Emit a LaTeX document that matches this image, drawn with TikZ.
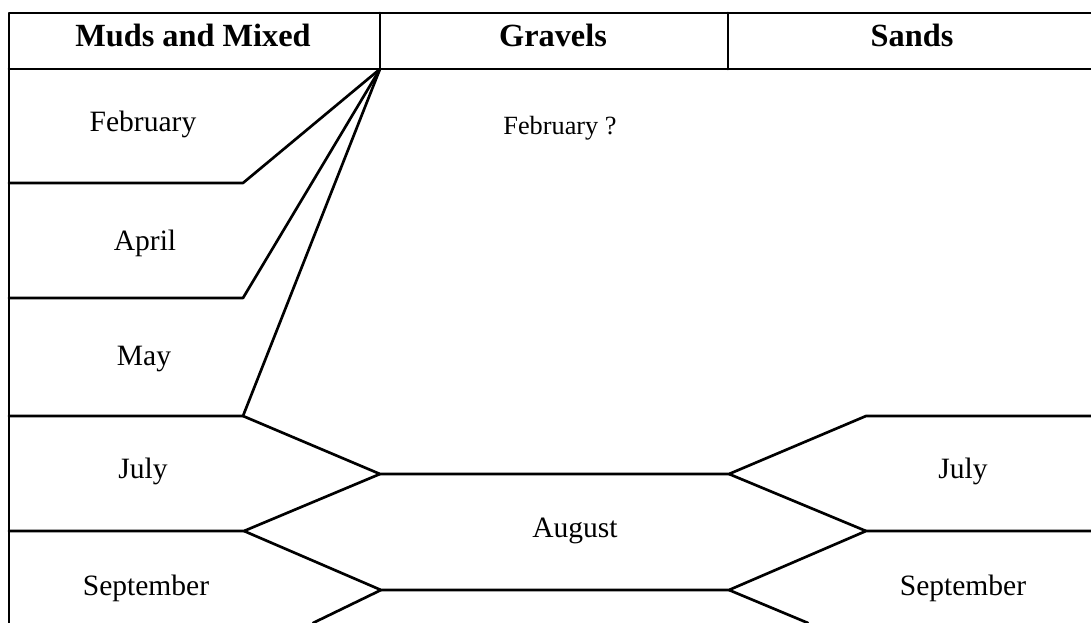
\documentclass[tikz,border=0pt]{standalone}
\usepackage{fontspec}
\setmainfont{Liberation Serif}

\begin{document}
\begin{tikzpicture}[
  x=0.025cm,
  y=-0.025cm,
  line cap=round,
  line join=round,
  rule/.style={line width=1.9pt},
  head/.style={anchor=base,font=\fontsize{23}{27}\selectfont\bfseries},
  month/.style={anchor=base,font=\fontsize{21}{25}\selectfont},
  query/.style={anchor=base,font=\fontsize{18.7}{22}\selectfont}
]
  \useasboundingbox (0,0) rectangle (1091,623);

  % Header row
  \coordinate (H0) at (9,13);
  \coordinate (H1) at (1091,13);
  \coordinate (G0) at (9,69);
  \coordinate (G1) at (1091,69);
  \coordinate (D1) at (380,13);
  \coordinate (D2) at (728,13);
  \coordinate (A)  at (380,69);
  \coordinate (D3) at (728,69);

  % Left column break points
  \coordinate (F)  at (243,183);
  \coordinate (Ap) at (243,298);
  \coordinate (M)  at (243,416);
  \coordinate (S)  at (244,531);

  % Middle and right break points
  \coordinate (J1) at (380,474);
  \coordinate (J2) at (729,474);
  \coordinate (B1) at (381,590);
  \coordinate (B2) at (729,590);
  \coordinate (R1) at (866,416);
  \coordinate (R2) at (866,531);

  % Frame and header lines
  \draw[rule] (9,623) -- (H0) -- (H1);
  \draw[rule] (G0) -- (G1);
  \draw[rule] (D1) -- (A);
  \draw[rule] (D2) -- (D3);

  % Muds and Mixed: February, April, May
  \draw[rule] (9,183) -- (F) -- (A);
  \draw[rule] (9,298) -- (Ap) -- (A);
  \draw[rule] (9,416) -- (M) -- (A);

  % July and August bands
  \draw[rule] (M) -- (J1) -- (J2) -- (R1) -- (1091,416);
  \draw[rule] (9,531) -- (S) -- (J1);
  \draw[rule] (S) -- (B1) -- (B2) -- (R2) -- (1091,531);
  \draw[rule] (J2) -- (R2);

  % Open ends below
  \draw[rule] (B1) -- (313,623);
  \draw[rule] (B2) -- (808,623);

  % Column titles
  \node[head] (tMuds)   at (193,47) {Muds and Mixed};
  \node[head] (tGravel) at (553,47) {Gravels};
  \node[head] (tSands)  at (912,47) {Sands};

  % Months
  \node[month] (feb)  at (143,132) {February};
  \node[month] (apr)  at (145,250) {April};
  \node[month] (may)  at (144,365) {May};
  \node[month] (julL) at (143,478) {July};
  \node[month] (sepL) at (146,595) {September};
  \node[month] (aug)  at (575,537) {August};
  \node[month] (julR) at (963,478) {July};
  \node[month] (sepR) at (963,595) {September};
  \node[query] (febG) at (560,135) {February ?};
\end{tikzpicture}
\end{document}
